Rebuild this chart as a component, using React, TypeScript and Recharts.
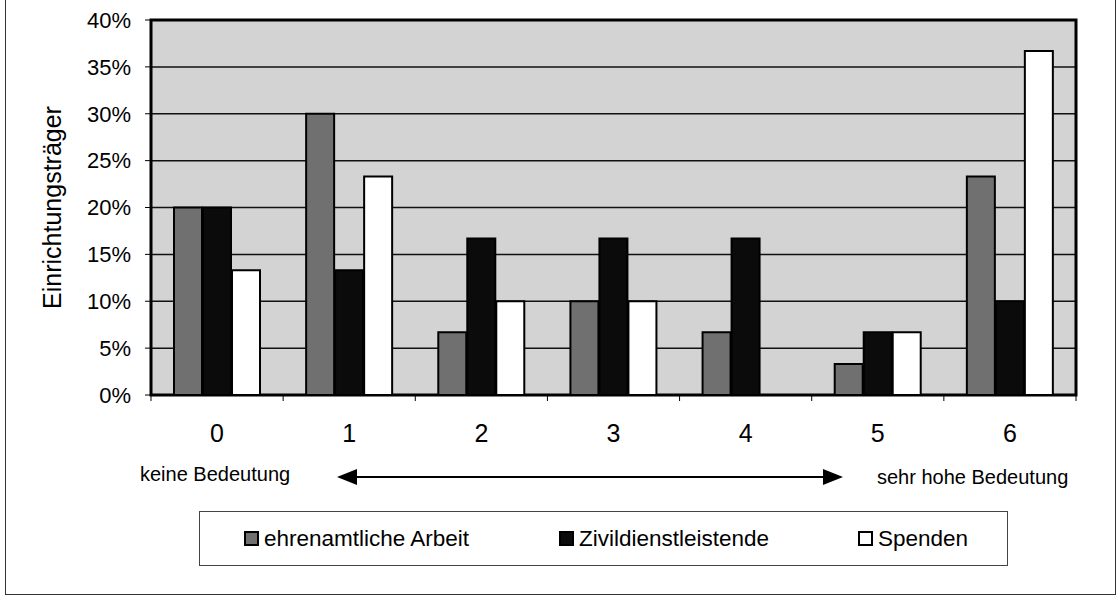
import React from "react";
import { Bar, BarChart, CartesianGrid, ReferenceArea, XAxis, YAxis } from "recharts";

const categories = ["0", "1", "2", "3", "4", "5", "6"];
const ehrenamt = [20, 30, 6.7, 10, 6.7, 3.3, 23.3];
const zivi = [20, 13.3, 16.7, 16.7, 16.7, 6.7, 10];
const spenden = [13.3, 23.3, 10, 10, 0, 6.7, 36.7];
const yTicks = [0, 5, 10, 15, 20, 25, 30, 35, 40];
const seriesNames = ["ehrenamtliche Arbeit", "Zivildienstleistende", "Spenden"];
const seriesColors = ["#707070", "#0b0b0b", "#ffffff"];
const yTitle = "Einrichtungsträger";
const scaleLow = "keine Bedeutung";
const scaleHigh = "sehr hohe Bedeutung";

const FONT = '"Liberation Sans", Arial, sans-serif';

const data = categories.map((c, i) => ({
  cat: c,
  ehrenamt: ehrenamt[i],
  zivi: zivi[i],
  spenden: spenden[i],
}));

function CatTick(props: any) {
  const { x, y, payload, index } = props;
  const half = payload?.offset ?? 66;
  const axisY = y - 8;
  return (
    <g>
      <line x1={x - half} x2={x - half} y1={axisY} y2={axisY + 6} stroke="#000" strokeWidth={1} />
      {index === categories.length - 1 && (
        <line x1={x + half} x2={x + half} y1={axisY} y2={axisY + 6} stroke="#000" strokeWidth={1} />
      )}
      <text x={x} y={y + 39} textAnchor="middle" fontSize={25} fill="#000" fontFamily={FONT}>
        {payload.value}
      </text>
    </g>
  );
}

function YTitle(props: any) {
  const vb = props.viewBox || { x: 51, y: 20, width: 100, height: 375 };
  const cx = vb.x + 1;
  const cy = vb.y + vb.height / 2;
  return (
    <text
      x={cx}
      y={cy}
      transform={`rotate(-90 ${cx} ${cy})`}
      textAnchor="middle"
      dominantBaseline="central"
      fontSize={25}
      fill="#000"
      fontFamily={FONT}
    >
      {yTitle}
    </text>
  );
}

const legendLefts = [44, 359, 658];

export default function App() {
  return (
    <div style={{ position: "absolute", left: 0, top: 0, width: 1118, height: 598, background: "#fff", fontFamily: FONT }}>
      <div
        style={{
          position: "absolute",
          left: 5,
          top: -2,
          width: 1109,
          height: 595,
          border: "1px solid #333",
        }}
      />
      <BarChart
        width={1118}
        height={598}
        data={data}
        margin={{ top: 20, right: 42, left: 51, bottom: 153 }}
        barCategoryGap={23}
        barGap={1}
        style={{ position: "absolute", left: 0, top: 0 }}
      >
        <CartesianGrid vertical={false} stroke="#111" strokeWidth={1.5} fill="#d3d3d3" fillOpacity={1} />
        <XAxis
          dataKey="cat"
          height={50}
          axisLine={false}
          tickLine={false}
          tickSize={6}
          tickMargin={2}
          interval={0}
          tick={<CatTick />}
        />
        <YAxis
          width={100}
          domain={[0, 40]}
          ticks={yTicks}
          interval={0}
          tickFormatter={(v: number) => `${v}%`}
          axisLine={false}
          tickLine={{ stroke: "#000", strokeWidth: 1 }}
          tickSize={6}
          tickMargin={14}
          tick={{ fontSize: 22, fill: "#000", fontFamily: FONT }}
          label={{ content: (p: any) => <YTitle {...p} /> }}
        />
        <Bar dataKey="ehrenamt" name={seriesNames[0]} fill={seriesColors[0]} stroke="#000" strokeWidth={2} isAnimationActive={false} />
        <Bar dataKey="zivi" name={seriesNames[1]} fill={seriesColors[1]} stroke="#000" strokeWidth={2} isAnimationActive={false} />
        <Bar dataKey="spenden" name={seriesNames[2]} fill={seriesColors[2]} stroke="#000" strokeWidth={2} isAnimationActive={false} />
        <ReferenceArea
          x1={categories[0]}
          x2={categories[categories.length - 1]}
          y1={0}
          y2={40}
          fill="none"
          stroke="#000"
          strokeWidth={3}
          ifOverflow="visible"
        />
      </BarChart>

      <svg width={1118} height={598} style={{ position: "absolute", left: 0, top: 0, pointerEvents: "none" }}>
        <text x={140} y={481} fontSize={20} fill="#000" fontFamily={FONT}>
          {scaleLow}
        </text>
        <text x={877} y={484} fontSize={20} fill="#000" fontFamily={FONT}>
          {scaleHigh}
        </text>
        <line x1={352} x2={828} y1={477} y2={477} stroke="#000" strokeWidth={2} />
        <polygon points="337,477 357,469 357,485" fill="#000" />
        <polygon points="843,477 823,469 823,485" fill="#000" />
      </svg>

      <div
        style={{
          position: "absolute",
          left: 199,
          top: 511,
          width: 807,
          height: 53,
          border: "1px solid #444",
        }}
      >
        {seriesNames.map((name, i) => (
          <div
            key={name}
            style={{
              position: "absolute",
              left: legendLefts[i],
              top: 0,
              height: 53,
              display: "flex",
              alignItems: "center",
              fontSize: 22.5,
              color: "#000",
              whiteSpace: "nowrap",
            }}
          >
            <span
              style={{
                display: "inline-block",
                width: 11,
                height: 11,
                border: "2px solid #000",
                background: seriesColors[i],
                marginRight: 5,
              }}
            />
            {name}
          </div>
        ))}
      </div>
    </div>
  );
}
